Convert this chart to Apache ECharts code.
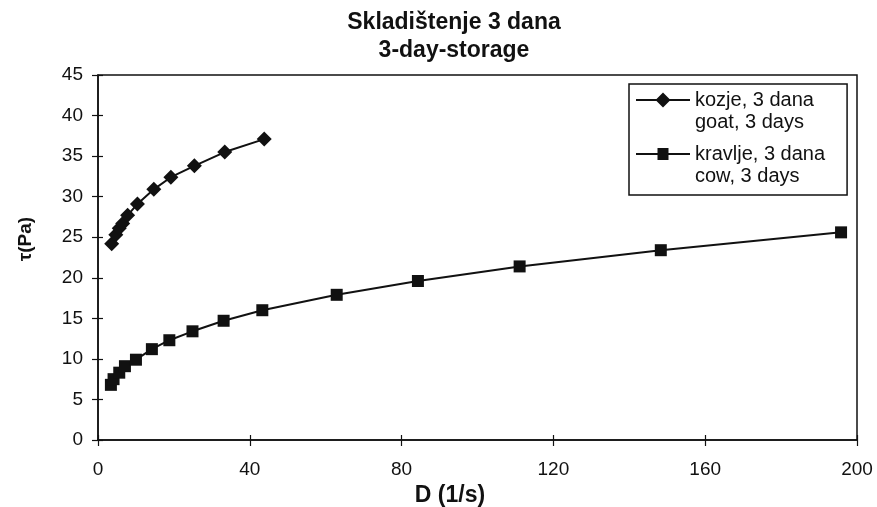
<!DOCTYPE html>
<html style="height: 100%">
<head>
  <meta charset="utf-8">
  <script src="https://cdn.jsdelivr.net/npm/echarts@6/dist/echarts.min.js"></script>
</head>
<body style="height: 100%; margin: 0; background: #fff">
<div id="container" style="width: 877px; height: 507px"></div>
<script type="text/javascript">
// shear rate D (1/s) and shear stress tau (Pa)
var goatD   = [3.6, 4.7, 5.6, 6.5, 7.8, 10.4, 14.7, 19.2, 25.4, 33.4, 43.8];
var goatTau = [24.2, 25.3, 26.1, 26.7, 27.7, 29.1, 30.9, 32.4, 33.8, 35.5, 37.1];

var cowD   = [3.4, 4.1, 5.6, 7.1, 10.0, 14.2, 18.8, 24.9, 33.1, 43.3, 62.9, 84.3, 111.1, 148.3, 195.8];
var cowTau = [6.8, 7.5, 8.3, 9.1, 9.9, 11.2, 12.3, 13.4, 14.7, 16.0, 17.9, 19.6, 21.4, 23.4, 25.6];

var seriesNames = ['kozje, 3 dana\ngoat, 3 days', 'kravlje, 3 dana\ncow, 3 days'];

function pairs(xs, ys) {
    return xs.map(function (x, i) { return [x, ys[i]]; });
}

// legend icons: line + marker drawn in the upper half so it sits on the first text line
var iconGoat = 'path://M0 0L0.01 0L0.01 0.01ZM0 44L0.01 44L0.01 43.99ZM54 0L54 0.01L53.99 0ZM0 10L20.5 10L27 3.5L33.5 10L54 10L54 12L33.5 12L27 18.5L20.5 12L0 12Z';
var iconCow = 'path://M0 0L0.01 0L0.01 0.01ZM0 44L0.01 44L0.01 43.99ZM54 0L54 0.01L53.99 0ZM0 10L21.5 10L21.5 5L32.5 5L32.5 10L54 10L54 12L32.5 12L32.5 17L21.5 17L21.5 12L0 12Z';

var font = '"Liberation Sans", Arial, sans-serif';
var plotRect = { left: 98, right: 20, top: 75, bottom: 67, outerBoundsMode: 'none', containLabel: false };

var myChart = echarts.init(document.getElementById('container'));
var option = {
    backgroundColor: '#fff',
    animation: false,
    title: {
        text: 'Skladištenje 3 dana\n3-day-storage',
        left: 454,
        top: 9,
        textAlign: 'center',
        padding: 0,
        textStyle: {
            fontFamily: font,
            fontWeight: 'bold',
            fontSize: 23,
            lineHeight: 28,
            color: '#111'
        }
    },
    legend: {
        left: 629,
        top: 84,
        orient: 'vertical',
        itemWidth: 54,
        itemHeight: 44,
        itemGap: 10,
        padding: [5, 22, 8, 7],
        borderColor: '#111',
        borderWidth: 1.5,
        borderRadius: 0,
        backgroundColor: '#fff',
        textStyle: {
            fontFamily: font,
            fontSize: 20,
            lineHeight: 22,
            color: '#111'
        },
        data: [
            { name: seriesNames[0], icon: iconGoat },
            { name: seriesNames[1], icon: iconCow }
        ]
    },
    grid: [
        Object.assign({ show: true, borderColor: '#111', borderWidth: 1.5 }, plotRect),
        // second grid on the same rect, only for the inner half of the crossing ticks
        Object.assign({ show: false }, plotRect)
    ],
    xAxis: [{
        type: 'value',
        gridIndex: 0,
        min: 0,
        max: 200,
        interval: 40,
        name: 'D (1/s)',
        nameLocation: 'middle',
        nameGap: 43,
        nameTextStyle: {
            fontFamily: font,
            fontWeight: 'bold',
            fontSize: 23,
            color: '#111',
            padding: [0, 55, 0, 0]
        },
        axisLine: { show: true, lineStyle: { color: '#111', width: 1.5 } },
        axisTick: { show: true, length: 6, lineStyle: { color: '#111', width: 1.2 } },
        axisLabel: { margin: 20, fontFamily: font, fontSize: 19, color: '#111' },
        splitLine: { show: false }
    }, {
        type: 'value',
        gridIndex: 1,
        min: 0,
        max: 200,
        interval: 40,
        position: 'bottom',
        axisLine: { show: false },
        axisTick: { show: true, inside: true, length: 5, lineStyle: { color: '#111', width: 1.2 } },
        axisLabel: { show: false },
        splitLine: { show: false }
    }],
    yAxis: [{
        type: 'value',
        gridIndex: 0,
        min: 0,
        max: 45,
        interval: 5,
        name: 'τ(Pa)',
        nameLocation: 'middle',
        nameRotate: 90,
        nameGap: 63,
        nameTextStyle: {
            fontFamily: font,
            fontWeight: 'bold',
            fontSize: 19,
            color: '#111',
            padding: [0, 0, 0, 37]
        },
        axisLine: { show: true, lineStyle: { color: '#111', width: 1.5 } },
        axisTick: { show: true, length: 6, lineStyle: { color: '#111', width: 1.2 } },
        axisLabel: { margin: 15, fontFamily: font, fontSize: 19, color: '#111' },
        splitLine: { show: false }
    }, {
        type: 'value',
        gridIndex: 1,
        min: 0,
        max: 45,
        interval: 5,
        position: 'left',
        axisLine: { show: false },
        axisTick: { show: true, inside: true, length: 5, lineStyle: { color: '#111', width: 1.2 } },
        axisLabel: { show: false },
        splitLine: { show: false }
    }],
    series: [{
        name: seriesNames[0],
        type: 'line',
        xAxisIndex: 0,
        yAxisIndex: 0,
        data: pairs(goatD, goatTau),
        symbol: 'diamond',
        symbolSize: 15,
        itemStyle: { color: '#111' },
        lineStyle: { color: '#111', width: 2 }
    }, {
        name: seriesNames[1],
        type: 'line',
        xAxisIndex: 0,
        yAxisIndex: 0,
        data: pairs(cowD, cowTau),
        symbol: 'rect',
        symbolSize: 12,
        itemStyle: { color: '#111' },
        lineStyle: { color: '#111', width: 2 }
    }]
};
myChart.setOption(option);
</script>
</body>
</html>
